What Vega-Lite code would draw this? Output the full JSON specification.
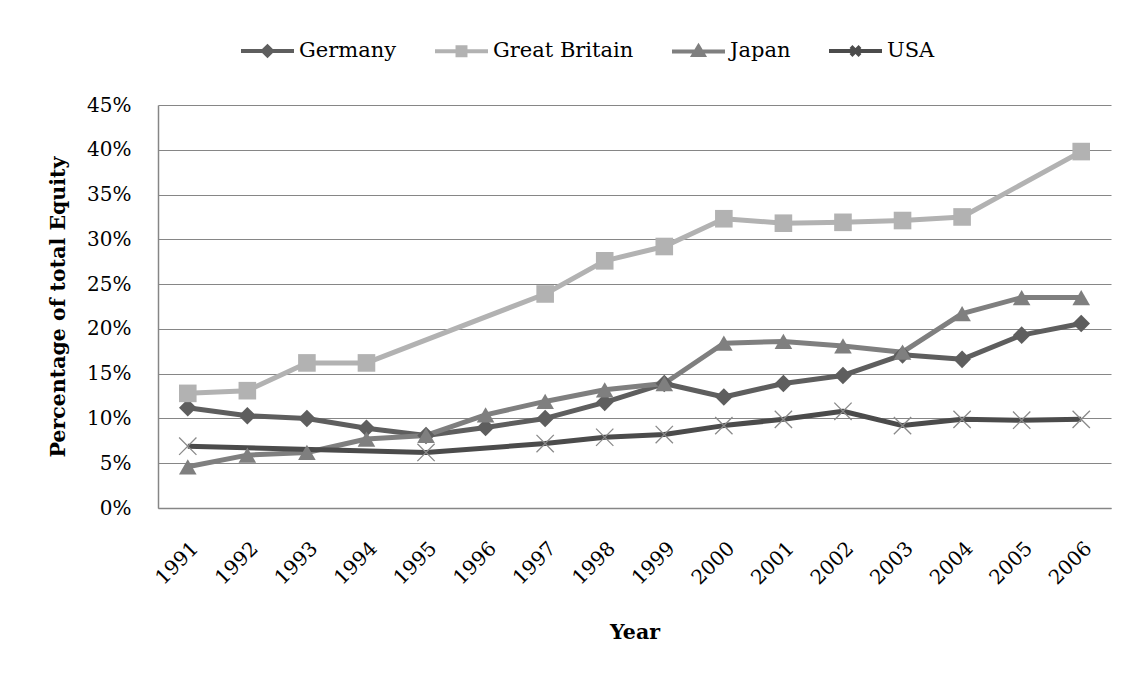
{
  "$schema": "https://vega.github.io/schema/vega-lite/v6.json",
  "autosize": "none",
  "width": 953,
  "height": 403,
  "padding": {"left": 158, "top": 105, "right": 18, "bottom": 165},
  "background": "white",
  "config": {
    "view": {"stroke": null},
    "font": "DejaVu Serif"
  },
  "data": {
    "values": [
      {"Year": "1991", "Country": "Germany", "Value": 11.2},
      {"Year": "1992", "Country": "Germany", "Value": 10.3},
      {"Year": "1993", "Country": "Germany", "Value": 10.0},
      {"Year": "1994", "Country": "Germany", "Value": 8.9},
      {"Year": "1995", "Country": "Germany", "Value": 8.1},
      {"Year": "1996", "Country": "Germany", "Value": 9.0},
      {"Year": "1997", "Country": "Germany", "Value": 10.0},
      {"Year": "1998", "Country": "Germany", "Value": 11.8},
      {"Year": "1999", "Country": "Germany", "Value": 13.9},
      {"Year": "2000", "Country": "Germany", "Value": 12.4},
      {"Year": "2001", "Country": "Germany", "Value": 13.9},
      {"Year": "2002", "Country": "Germany", "Value": 14.8},
      {"Year": "2003", "Country": "Germany", "Value": 17.1},
      {"Year": "2004", "Country": "Germany", "Value": 16.6},
      {"Year": "2005", "Country": "Germany", "Value": 19.3},
      {"Year": "2006", "Country": "Germany", "Value": 20.6},
      {"Year": "1991", "Country": "Great Britain", "Value": 12.8},
      {"Year": "1992", "Country": "Great Britain", "Value": 13.1},
      {"Year": "1993", "Country": "Great Britain", "Value": 16.2},
      {"Year": "1994", "Country": "Great Britain", "Value": 16.2},
      {"Year": "1997", "Country": "Great Britain", "Value": 23.9},
      {"Year": "1998", "Country": "Great Britain", "Value": 27.6},
      {"Year": "1999", "Country": "Great Britain", "Value": 29.2},
      {"Year": "2000", "Country": "Great Britain", "Value": 32.3},
      {"Year": "2001", "Country": "Great Britain", "Value": 31.8},
      {"Year": "2002", "Country": "Great Britain", "Value": 31.9},
      {"Year": "2003", "Country": "Great Britain", "Value": 32.1},
      {"Year": "2004", "Country": "Great Britain", "Value": 32.5},
      {"Year": "2006", "Country": "Great Britain", "Value": 39.8},
      {"Year": "1991", "Country": "Japan", "Value": 4.6},
      {"Year": "1992", "Country": "Japan", "Value": 5.9},
      {"Year": "1993", "Country": "Japan", "Value": 6.2},
      {"Year": "1994", "Country": "Japan", "Value": 7.7},
      {"Year": "1995", "Country": "Japan", "Value": 8.1},
      {"Year": "1996", "Country": "Japan", "Value": 10.4},
      {"Year": "1997", "Country": "Japan", "Value": 11.9},
      {"Year": "1998", "Country": "Japan", "Value": 13.2},
      {"Year": "1999", "Country": "Japan", "Value": 13.9},
      {"Year": "2000", "Country": "Japan", "Value": 18.4},
      {"Year": "2001", "Country": "Japan", "Value": 18.6},
      {"Year": "2002", "Country": "Japan", "Value": 18.1},
      {"Year": "2003", "Country": "Japan", "Value": 17.4},
      {"Year": "2004", "Country": "Japan", "Value": 21.7},
      {"Year": "2005", "Country": "Japan", "Value": 23.5},
      {"Year": "2006", "Country": "Japan", "Value": 23.5},
      {"Year": "1991", "Country": "USA", "Value": 6.9},
      {"Year": "1995", "Country": "USA", "Value": 6.2},
      {"Year": "1997", "Country": "USA", "Value": 7.2},
      {"Year": "1998", "Country": "USA", "Value": 7.9},
      {"Year": "1999", "Country": "USA", "Value": 8.2},
      {"Year": "2000", "Country": "USA", "Value": 9.2},
      {"Year": "2001", "Country": "USA", "Value": 9.9},
      {"Year": "2002", "Country": "USA", "Value": 10.8},
      {"Year": "2003", "Country": "USA", "Value": 9.2},
      {"Year": "2004", "Country": "USA", "Value": 9.9},
      {"Year": "2005", "Country": "USA", "Value": 9.8},
      {"Year": "2006", "Country": "USA", "Value": 9.9}
    ]
  },
  "encoding": {
    "x": {
      "field": "Year",
      "type": "ordinal",
      "scale": {"type": "point", "padding": 0.5},
      "axis": {
        "title": "Year",
        "titleFont": "DejaVu Serif",
        "titleFontSize": 20.5,
        "titleFontWeight": "bold",
        "titleColor": "black",
        "titlePadding": 34,
        "labelFont": "DejaVu Serif",
        "labelFontSize": 20,
        "labelColor": "black",
        "labelAngle": -45,
        "labelPadding": 30,
        "ticks": false,
        "grid": false,
        "domainColor": "#868686",
        "domainWidth": 1.5
      }
    },
    "y": {
      "field": "Value",
      "type": "quantitative",
      "scale": {"domain": [0, 45], "nice": false},
      "axis": {
        "title": "Percentage of total Equity",
        "titleFont": "DejaVu Serif",
        "titleFontSize": 20.5,
        "titleFontWeight": "bold",
        "titleColor": "black",
        "titlePadding": 18,
        "labelFont": "DejaVu Serif",
        "labelFontSize": 20,
        "labelColor": "black",
        "labelPadding": 27,
        "labelExpr": "datum.value + '%'",
        "values": [0, 5, 10, 15, 20, 25, 30, 35, 40, 45],
        "ticks": false,
        "grid": true,
        "gridColor": "#868686",
        "gridWidth": 1.2,
        "domainColor": "#868686",
        "domainWidth": 1.5
      }
    },
    "color": {
      "field": "Country",
      "type": "nominal",
      "scale": {
        "domain": ["Germany", "Great Britain", "Japan", "USA"],
        "range": ["#5e5e5e", "#b2b2b2", "#7f7f7f", "#4b4b4b"]
      },
      "legend": {
        "title": null,
        "orient": "none",
        "direction": "horizontal",
        "legendX": 81,
        "legendY": -83,
        "padding": 0,
        "symbolSize": 2809,
        "symbolStrokeWidth": 4,
        "columnPadding": 30,
        "labelOffset": 3,
        "labelFont": "DejaVu Serif",
        "labelFontSize": 21,
        "labelColor": "black",
        "labelLimit": 300,
        "encode": {
          "symbols": {
            "update": {
              "shape": {"signal": "datum.value === 'Germany' ? 'M-1,0H1M-0.17,0L0,-0.17L0.17,0L0,0.17Z' : datum.value === 'Great Britain' ? 'M-1,0H1M-0.15,-0.15H0.15V0.15H-0.15Z' : datum.value === 'Japan' ? 'M-1,0H1M0,-0.18L0.19,0.14L-0.19,0.14Z' : 'M-1,0H1M-0.17,-0.17L0.17,0.17M-0.17,0.17L0.17,-0.17'"},
              "fill": {"signal": "scale('color', datum.value)"},
              "stroke": {"signal": "scale('color', datum.value)"},
              "strokeWidth": {"value": 4},
              "opacity": {"value": 1},
              "fillOpacity": {"value": 1},
              "strokeOpacity": {"value": 1}
            }
          }
        }
      }
    }
  },
  "layer": [
    {
      "mark": {"type": "line", "strokeWidth": 5, "strokeJoin": "round"}
    },
    {
      "transform": [{"filter": "datum.Country !== 'USA'"}],
      "mark": {"type": "point", "filled": true, "opacity": 1, "size": 310},
      "encoding": {
        "shape": {
          "field": "Country",
          "type": "nominal",
          "scale": {
            "domain": ["Germany", "Great Britain", "Japan"],
            "range": ["diamond", "square", "triangle-up"]
          },
          "legend": null
        }
      }
    },
    {
      "transform": [{"filter": "datum.Country === 'USA'"}],
      "mark": {
        "type": "point",
        "filled": false,
        "shape": "M-1,-1L1,1M-1,1L1,-1",
        "size": 300,
        "stroke": "#8a8a8a",
        "strokeWidth": 1.3,
        "opacity": 1
      },
      "encoding": {"color": {"value": "#8a8a8a"}}
    }
  ]
}
